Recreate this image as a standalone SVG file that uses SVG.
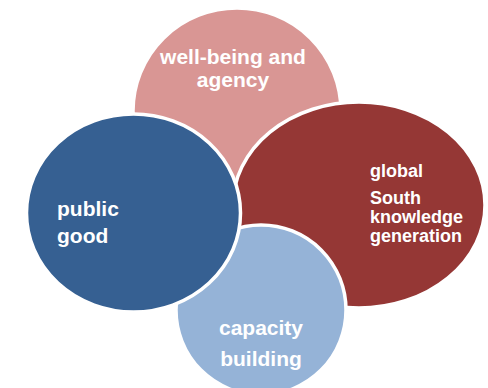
<svg xmlns="http://www.w3.org/2000/svg" width="488" height="388" viewBox="0 0 488 388">
<style>
.c{stroke:#fff;stroke-width:3.5}
.t{font-family:"Liberation Sans",Arial,sans-serif;font-weight:bold;fill:#fff}
.big{font-size:21px}
.sm{font-size:18px}
</style>
<rect width="488" height="388" fill="#fff"/>
<g id="wellbeing">
<ellipse class="c" cx="237" cy="111" rx="104" ry="103" fill="#D99694"/>
<text class="t big" x="233" y="64" text-anchor="middle">well-being and</text>
<text class="t big" x="233" y="87" text-anchor="middle">agency</text>
</g>
<g id="global">
<ellipse class="c" cx="359" cy="205" rx="126" ry="103" fill="#953735"/>
<text class="t sm" x="370" y="177">global</text>
<text class="t sm" x="370" y="204">South</text>
<text class="t sm" x="370" y="223">knowledge</text>
<text class="t sm" x="370" y="242">generation</text>
</g>
<g id="capacity">
<ellipse class="c" cx="261" cy="310" rx="85" ry="85" fill="#95B3D7"/>
<text class="t big" x="261" y="335" text-anchor="middle">capacity</text>
<text class="t big" x="261" y="366" text-anchor="middle">building</text>
</g>
<g id="public">
<ellipse class="c" cx="133.5" cy="213" rx="107" ry="99" fill="#366092"/>
<text class="t big" x="57" y="216">public</text>
<text class="t big" x="57" y="243">good</text>
</g>
<g id="connectors"/>
</svg>
